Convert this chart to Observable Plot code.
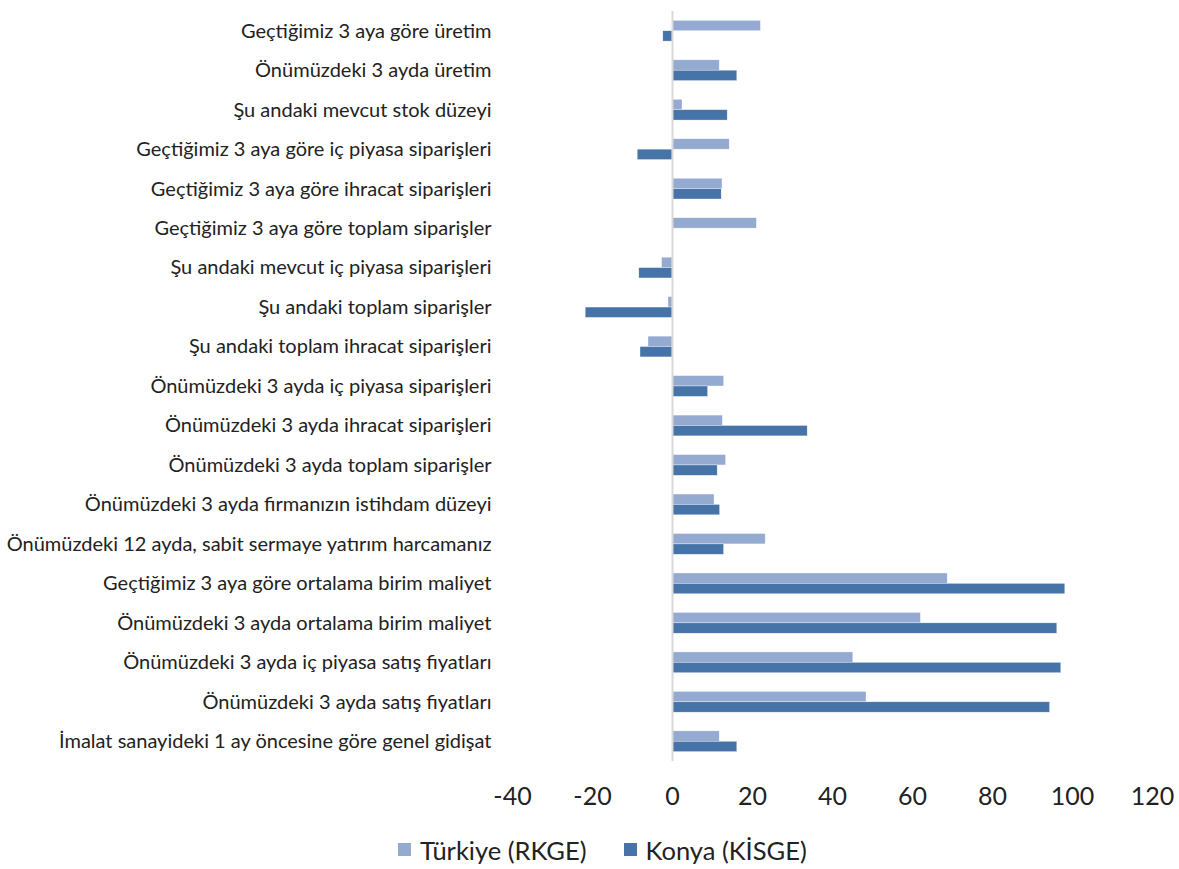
<!DOCTYPE html>
<html>
<head>
<meta charset="utf-8">
<script src="https://cdn.jsdelivr.net/npm/d3@7"></script>
<script src="https://cdn.jsdelivr.net/npm/@observablehq/plot@0.6"></script>
<style>
  body { margin: 0; background: #fff; font-family: Lato, "Noto Sans", sans-serif; }
  #legend { display: flex; align-items: center; margin-left: 398px; height: 39px; font-size: 25.5px; color: #222; }
  .item { display: flex; align-items: center; margin-right: 37px; }
  .sw { width: 13px; height: 13px; margin-right: 9px; }
</style>
</head>
<body>
<div id="chart"></div>
<div id="legend"></div>
<script>
const categories = [
  "Geçtiğimiz 3 aya göre üretim",
  "Önümüzdeki 3 ayda üretim",
  "Şu andaki mevcut stok düzeyi",
  "Geçtiğimiz 3 aya göre iç piyasa siparişleri",
  "Geçtiğimiz 3 aya göre ihracat siparişleri",
  "Geçtiğimiz 3 aya göre toplam siparişler",
  "Şu andaki mevcut iç piyasa siparişleri",
  "Şu andaki toplam siparişler",
  "Şu andaki toplam ihracat siparişleri",
  "Önümüzdeki 3 ayda iç piyasa siparişleri",
  "Önümüzdeki 3 ayda ihracat siparişleri",
  "Önümüzdeki 3 ayda toplam siparişler",
  "Önümüzdeki 3 ayda firmanızın istihdam düzeyi",
  "Önümüzdeki 12 ayda, sabit sermaye yatırım harcamanız",
  "Geçtiğimiz 3 aya göre ortalama birim maliyet",
  "Önümüzdeki 3 ayda ortalama birim maliyet",
  "Önümüzdeki 3 ayda iç piyasa satış fiyatları",
  "Önümüzdeki 3 ayda satış fiyatları",
  "İmalat sanayideki 1 ay öncesine göre genel gidişat"
];
const seriesNames = ["Türkiye (RKGE)", "Konya (KİSGE)"];
const turkiye = [22.1, 11.8, 2.5, 14.3, 12.5, 21.1, -2.6, -1.0, -6.0, 12.9, 12.6, 13.4, 10.5, 23.3, 68.8, 62.1, 45.2, 48.5, 11.8];
const konya   = [-2.3, 16.2, 13.8, -8.7, 12.3, 0, -8.3, -21.7, -8.0, 8.9, 33.8, 11.3, 11.9, 12.9, 98.2, 96.2, 97.2, 94.4, 16.2];
const xTicks = [-40, -20, 0, 20, 40, 60, 80, 100, 120];
const colors = ["#95AAD1", "#4674A8"];

const data = [];
categories.forEach((c, i) => {
  data.push({category: c, series: seriesNames[0], value: turkiye[i]});
  data.push({category: c, series: seriesNames[1], value: konya[i]});
});

const chart = Plot.plot({
  width: 1179,
  height: 830,
  marginLeft: 512,
  marginRight: 27,
  marginTop: 11,
  marginBottom: 69,
  style: {fontFamily: "Lato, 'Noto Sans', sans-serif", color: "#222"},
  x: {domain: [-40, 120], ticks: xTicks},
  y: {domain: seriesNames, paddingInner: 0, paddingOuter: 0.9, round: false, axis: null},
  fy: {domain: categories, padding: 0, round: false, label: null},
  color: {domain: seriesNames, range: colors},
  marks: [
    Plot.barX(data, {fy: "category", y: "series", x: "value", fill: "series", stroke: "#fff", strokeWidth: 0.5, strokeOpacity: 0.7}),
    Plot.ruleX([0], {stroke: "#D9D9D9", strokeWidth: 2}),
    Plot.axisX({ticks: xTicks, tickSize: 0, tickPadding: 26, fontSize: 25, label: null, tickFormat: d => String(d), fill: "#222"}),
    Plot.axisFy({anchor: "left", tickSize: 0, tickPadding: 21, fontSize: 20, label: null, fill: "#222"})
  ]
});
document.getElementById("chart").appendChild(chart);

const legend = document.getElementById("legend");
seriesNames.forEach((s, i) => {
  const item = document.createElement("div");
  item.className = "item";
  const sw = document.createElement("div");
  sw.className = "sw";
  sw.style.background = colors[i];
  const t = document.createElement("span");
  t.textContent = s;
  item.appendChild(sw);
  item.appendChild(t);
  legend.appendChild(item);
});
</script>
</body>
</html>
